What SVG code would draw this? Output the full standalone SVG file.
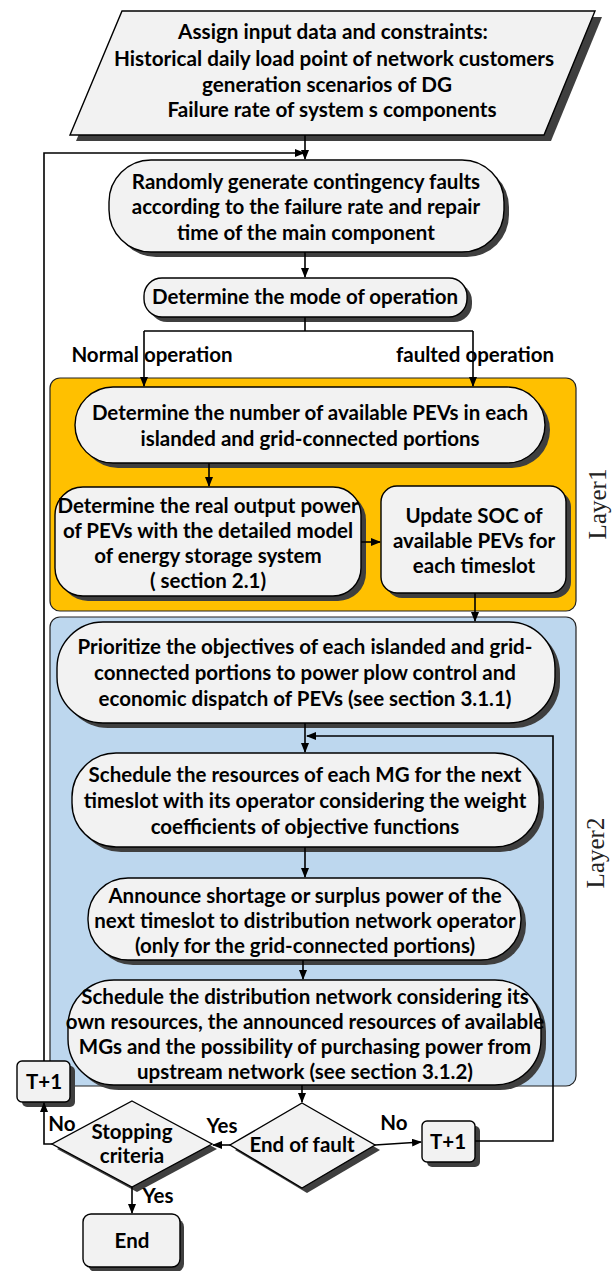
<svg xmlns="http://www.w3.org/2000/svg" width="612" height="1271" viewBox="0 0 612 1271">
<style>
.sh{fill:#3f3f3f;stroke:none}
.nd{fill:#f2f2f2;stroke:#000;stroke-width:1.4}
.t{font-family:Lato,"Noto Sans",sans-serif;font-weight:bold;font-size:20.5px;fill:#000;text-anchor:middle}
.big{font-size:20.7px}
.lay{font-family:"Liberation Serif",serif;font-size:25px;fill:#222;text-anchor:middle}
.c{fill:none;stroke:#000;stroke-width:1.6}
</style>
<defs>
<marker id="ah" markerWidth="10" markerHeight="8" refX="9" refY="4" orient="auto" markerUnits="userSpaceOnUse">
<path d="M0,0 L10,4 L0,8 z" fill="#000"/>
</marker>
</defs>
<rect id="layer1" x="50" y="378" width="526" height="233" rx="10" fill="#ffc000" stroke="#222" stroke-width="1.2"/>
<rect id="layer2" x="50" y="617" width="526" height="469" rx="10" fill="#bdd7ee" stroke="#222" stroke-width="1.2"/>
<text class="lay" transform="translate(598,504) rotate(-90)" dy="8">Layer1</text>
<text class="lay" transform="translate(596,853) rotate(-90)" dy="8">Layer2</text>

<g id="input">
<polygon class="sh" points="128,17 602,17 551,141 76,141"/>
<polygon class="nd" points="122,11 595,11 544,135 70,135"/>
<text class="t big" x="333" y="39">Assign input data and constraints:</text>
<text class="t big" x="334" y="65.5">Historical daily load point of network customers</text>
<text class="t big" x="327" y="91.5">generation scenarios of DG</text>
<text class="t big" x="332" y="117">Failure rate of system s components</text>
</g>
<g id="random">
<rect class="sh" x="114" y="165" width="395" height="92" rx="42"/>
<rect class="nd" x="109" y="160" width="395" height="92" rx="42"/>
<text class="t" x="306" y="189">Randomly generate contingency faults</text>
<text class="t" x="306" y="214">according to the failure rate and repair</text>
<text class="t" x="306" y="240">time of the main component</text>
</g>
<g id="mode">
<rect class="sh" x="149" y="283" width="323" height="39" rx="18"/>
<rect class="nd" x="144" y="278" width="323" height="39" rx="18"/>
<text class="t" x="305" y="304">Determine the mode of operation</text>
</g>
<g id="pevs">
<rect class="sh" x="80" y="392" width="470" height="76" rx="38"/>
<rect class="nd" x="75" y="387" width="470" height="76" rx="38"/>
<text class="t" x="310" y="420">Determine the number of available PEVs in each</text>
<text class="t" x="310" y="446">islanded and grid-connected portions</text>
</g>
<g id="realpower">
<rect class="sh" x="60" y="492" width="306" height="109" rx="28"/>
<rect class="nd" x="55" y="487" width="306" height="109" rx="28"/>
<text class="t" x="208" y="513">Determine the real output power</text>
<text class="t" x="208" y="538">of PEVs with the detailed model</text>
<text class="t" x="208" y="563">of energy storage system</text>
<text class="t" x="208" y="588">( section 2.1)</text>
</g>
<g id="soc">
<rect class="sh" x="386" y="491" width="185" height="107" rx="16"/>
<rect class="nd" x="381" y="486" width="185" height="107" rx="16"/>
<text class="t" x="474" y="523">Update SOC of</text>
<text class="t" x="474" y="548">available PEVs for</text>
<text class="t" x="474" y="573">each timeslot</text>
</g>
<g id="prioritize">
<rect class="sh" x="62" y="627" width="498" height="101" rx="46"/>
<rect class="nd" x="57" y="622" width="498" height="101" rx="46"/>
<text class="t" x="305" y="654">Prioritize the objectives of each islanded and grid-</text>
<text class="t" x="305" y="680">connected portions to power plow control  and</text>
<text class="t" x="305" y="706">economic dispatch of PEVs (see section 3.1.1)</text>
</g>
<g id="schedmg">
<rect class="sh" x="77" y="758" width="467" height="94" rx="44"/>
<rect class="nd" x="72" y="753" width="467" height="94" rx="44"/>
<text class="t" x="305" y="782">Schedule the resources of each MG for the next</text>
<text class="t" x="305" y="808">timeslot with its operator considering the weight</text>
<text class="t" x="305" y="834">coefficients of objective functions</text>
</g>
<g id="announce">
<rect class="sh" x="93" y="883" width="433" height="82" rx="40"/>
<rect class="nd" x="88" y="878" width="433" height="82" rx="40"/>
<text class="t" x="305" y="903">Announce shortage or surplus power of the</text>
<text class="t" x="305" y="928">next timeslot to distribution network operator</text>
<text class="t" x="305" y="953">(only for the grid-connected portions)</text>
</g>
<g id="scheddist">
<rect class="sh" x="73" y="985" width="473" height="105" rx="46"/>
<rect class="nd" x="68" y="980" width="473" height="105" rx="46"/>
<text class="t" x="305" y="1004">Schedule the distribution network considering its</text>
<text class="t" x="305" y="1029">own resources, the announced resources of available</text>
<text class="t" x="305" y="1054">MGs and the possibility of purchasing power from</text>
<text class="t" x="305" y="1079">upstream network (see section 3.1.2)</text>
</g>
<g id="endfault">
<polygon class="sh" points="307,1108 380,1150 307,1193 235,1150"/>
<polygon class="nd" points="302,1103 375,1145 302,1188 230,1145"/>
<text class="t" x="302" y="1152">End of fault</text>
</g>
<g id="stopping">
<polygon class="sh" points="137,1106 217,1149 137,1192 57,1149"/>
<polygon class="nd" points="132,1101 212,1144 132,1187 52,1144"/>
<text class="t" x="132" y="1139">Stopping</text>
<text class="t" x="132" y="1163">criteria</text>
</g>
<g id="tplus1left">
<rect class="sh" x="22" y="1066" width="53" height="41" rx="5"/>
<rect class="nd" x="17" y="1061" width="53" height="41" rx="5"/>
<text class="t" x="44" y="1089">T+1</text>
</g>
<g id="tplus1right">
<rect class="sh" x="427" y="1126" width="53" height="41" rx="5"/>
<rect class="nd" x="422" y="1121" width="53" height="41" rx="5"/>
<text class="t" x="448" y="1149">T+1</text>
</g>
<g id="end">
<rect class="sh" x="88" y="1219" width="96" height="53" rx="8"/>
<rect class="nd" x="83" y="1214" width="97" height="53" rx="8"/>
<text class="t" x="132" y="1248">End</text>
</g>

<g id="connectors">
<path class="c" d="M305,135 V159" marker-end="url(#ah)"/>
<path class="c" d="M44,1061 V153 H304" marker-end="url(#ah)"/>
<path class="c" d="M305,252 V277" marker-end="url(#ah)"/>
<path class="c" d="M305,317 V331 M144,331 H473"/>
<path class="c" d="M144,331 V386" marker-end="url(#ah)"/>
<path class="c" d="M473,331 V386" marker-end="url(#ah)"/>
<path class="c" d="M209,463 V486" marker-end="url(#ah)"/>
<path class="c" d="M361,542 H380" marker-end="url(#ah)"/>
<path class="c" d="M475,593 V621" marker-end="url(#ah)"/>
<path class="c" d="M305,723 V752" marker-end="url(#ah)"/>
<path class="c" d="M475,1141 H553 V736 H307" marker-end="url(#ah)"/>
<path class="c" d="M305,847 V877" marker-end="url(#ah)"/>
<path class="c" d="M303,960 V979" marker-end="url(#ah)"/>
<path class="c" d="M302,1085 V1102" marker-end="url(#ah)"/>
<path class="c" d="M230,1145 H213" marker-end="url(#ah)"/>
<path class="c" d="M375,1145 L421,1142" marker-end="url(#ah)"/>
<path class="c" d="M52,1144 H44 V1103" marker-end="url(#ah)"/>
<path class="c" d="M132,1187 V1213" marker-end="url(#ah)"/>
<text class="t" x="152" y="362">Normal operation</text>
<text class="t" x="475" y="362">faulted operation</text>
<text class="t" x="222" y="1133">Yes</text>
<text class="t" x="62" y="1131">No</text>
<text class="t" x="394" y="1130">No</text>
<text class="t" x="158" y="1203">Yes</text>
</g>
</svg>
